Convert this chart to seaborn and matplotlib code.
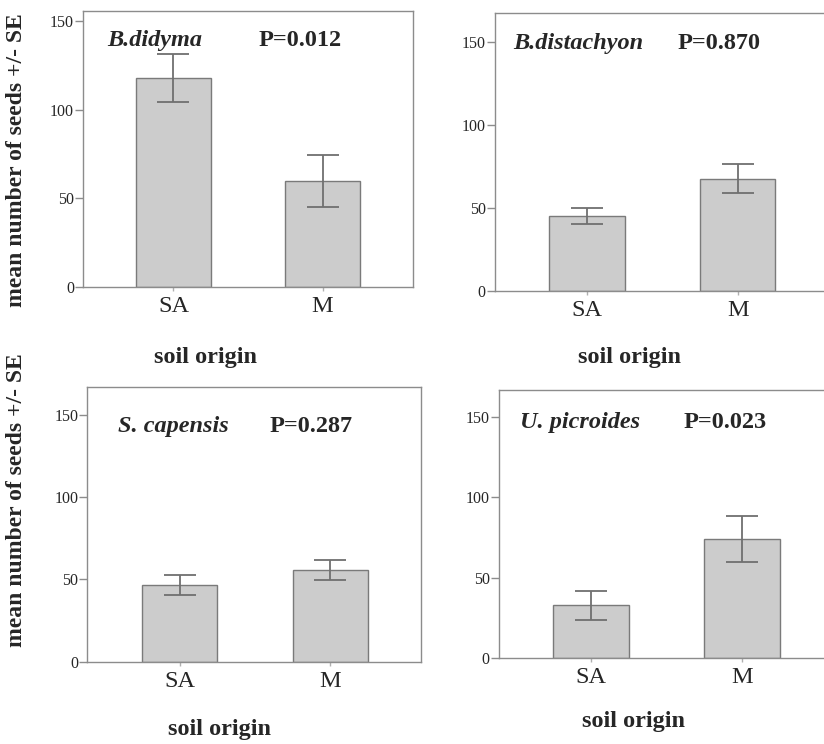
import matplotlib
matplotlib.use("Agg")
import matplotlib.pyplot as plt
import seaborn as sns
import pandas as pd

sns.set_style("white")
plt.rcParams['font.family'] = ['Liberation Serif', 'DejaVu Serif']

categories = ["SA", "M"]
species = ["B.didyma", "B.distachyon", "S. capensis", "U. picroides"]
p_values = ["P=0.012", "P=0.870", "P=0.287", "P=0.023"]
means_didyma = [117.8, 59.7]
se_didyma = [13.5, 14.6]
means_distachyon = [45.2, 67.7]
se_distachyon = [5.1, 8.8]
means_capensis = [46.7, 55.6]
se_capensis = [6.2, 6.1]
means_picroides = [32.7, 74.0]
se_picroides = [9.0, 14.5]
yticks = [0, 50, 100, 150]
ylabel = "mean number of seeds +/- SE"
xlabel = "soil origin"

all_means = [means_didyma, means_distachyon, means_capensis, means_picroides]
all_se = [se_didyma, se_distachyon, se_capensis, se_picroides]

W, H = 824, 744
fig = plt.figure(figsize=(W / 100, H / 100), dpi=100)

# panel geometry in pixels: left, top, right, bottom ; ylim top ; xlim
panels = [
    dict(rect=(83, 11, 413, 287), ytop=155.6, xlim=(-0.607, 1.607),
         sp=(0.073, 0.892), pp=(0.533, 0.892), xl=(205, 357), yl=(17, 160)),
    dict(rect=(494.7, 13.3, 829.2, 291), ytop=167.3, xlim=(-0.612, 1.607),
         sp=(0.054, 0.893), pp=(0.546, 0.893), xl=(630, 357), yl=None),
    dict(rect=(87.3, 387.3, 421, 661.7), ytop=166.9, xlim=(-0.615, 1.604),
         sp=(0.093, 0.858), pp=(0.545, 0.858), xl=(220, 730), yl=(17, 500)),
    dict(rect=(498.7, 390, 833.7, 657.7), ytop=166.9, xlim=(-0.611, 1.607),
         sp=(0.064, 0.877), pp=(0.551, 0.877), xl=(634, 722), yl=None),
]

spine_col = "#8c8c8c"
for i, pan in enumerate(panels):
    l, t, r, b = pan["rect"]
    ax = fig.add_axes([l / W, 1 - b / H, (r - l) / W, (b - t) / H])
    df = pd.DataFrame({"origin": categories, "mean": all_means[i]})
    sns.barplot(data=df, x="origin", y="mean", ax=ax, color="#cccccc",
                saturation=1, width=0.5, edgecolor="#7a7a7a", linewidth=1.0,
                errorbar=None)
    ax.errorbar(range(len(categories)), all_means[i], yerr=all_se[i], fmt="none",
                ecolor="#707070", elinewidth=1.3, capsize=11.5, capthick=1.3, zorder=5)
    ax.set_xlim(*pan["xlim"])
    ax.set_ylim(0, pan["ytop"])
    ax.set_yticks(yticks)
    ax.set_xlabel("")
    ax.set_ylabel("")
    for s in ax.spines.values():
        s.set_color(spine_col)
        s.set_linewidth(1.0)
        s.set_visible(True)
    ax.tick_params(axis="y", length=6, width=1, color=spine_col, labelsize=11.5,
                   pad=0.5, left=True, direction="out")
    ax.tick_params(axis="x", length=3, width=1, color="#b0b0b0", labelsize=17.5,
                   pad=3.5, bottom=True, direction="out")
    ax.text(pan["sp"][0], pan["sp"][1], species[i], transform=ax.transAxes,
            fontsize=17.5, fontweight="bold", fontstyle="italic", va="center", ha="left")
    ax.text(pan["pp"][0], pan["pp"][1], p_values[i], transform=ax.transAxes,
            fontsize=17.5, fontweight="bold", va="center", ha="left")
    fig.text(pan["xl"][0] / W, 1 - pan["xl"][1] / H, xlabel, fontsize=17.5,
             fontweight="bold", ha="center", va="center")
    if pan["yl"] is not None:
        fig.text(pan["yl"][0] / W, 1 - pan["yl"][1] / H, ylabel, fontsize=17,
                 fontweight="bold", rotation=90, ha="center", va="center")

fig.savefig("out.png", dpi=100)
